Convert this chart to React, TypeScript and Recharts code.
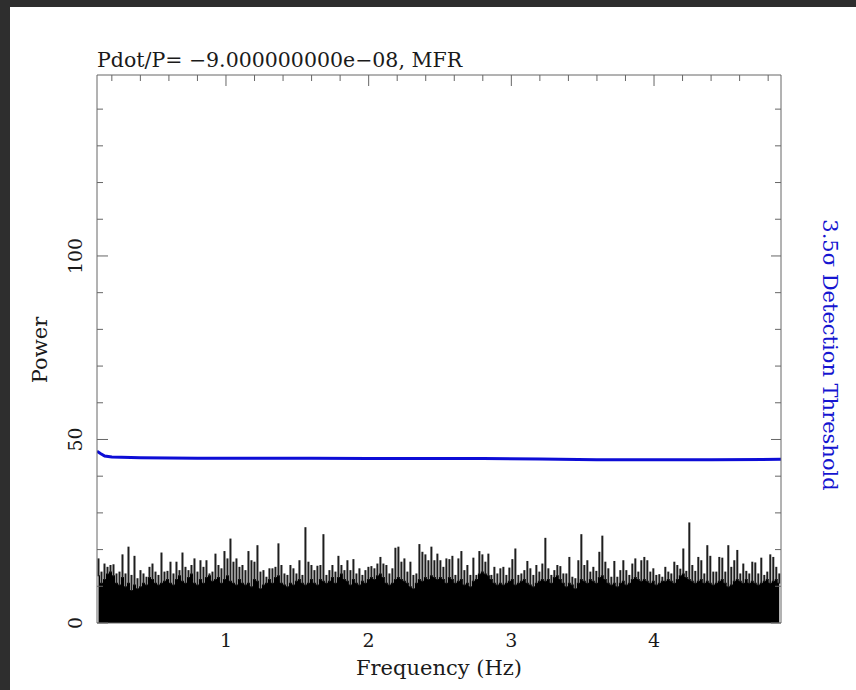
import React from 'react';
import { ComposedChart, Bar, Area, Line, XAxis, YAxis } from 'recharts';

// ---- data ----
const FREQ_START = 0.1065; // Hz, first spectrum column
const FREQ_STEP = 0.02102; // Hz between sampled columns

const PEAK_POWER = [
  17.6, 14, 16.2, 15.3, 15.8, 16, 13.5, 14, 18.7, 13.5, 20.8, 13.1, 18.3, 12.2, 14.4, 13.5, 12.6, 15.3, 16.2, 14,
  13.1, 19.2, 14, 14.2, 16.7, 13.5, 16.7, 14.4, 19.2, 15.3, 14.4, 15.8, 17.6, 14, 17.1, 15.3, 17.1, 13.5,
  14, 18.9, 15.8, 14.9, 19.6, 17.6, 23, 16.7, 17.6, 15.3, 15.8, 14.4, 19.6, 17.1, 16.7, 21.2, 14, 14.4, 12.6, 14.9,
  14.9, 15.3, 21.7, 15.8, 13.5, 13.1, 15.8, 14.9, 13.5, 17.1, 13.1, 26.1, 16.7, 15.8, 14.4, 15.6, 15.8, 24.2,
  13.1, 14.4, 15.8, 14, 18.3, 15.8, 14.4, 17.1, 14.4, 17.4, 13.5, 14.9, 13.1, 14.4, 15.3, 15.5, 14.9, 16.2, 18, 16.2,
  15.8, 13.5, 14.9, 20.5, 20.8, 16.7, 17.6, 14, 16.7, 13.1, 13.5, 21.5, 19.4, 18.7, 17.1, 20.8, 17.1, 18.9,
  17.1, 15.3, 17.6, 17.4, 18.3, 13.1, 17.6, 19.6, 14.4, 15.8, 13.1, 17.8, 13.1, 19.6, 18.7, 16.7, 18.9, 13.1, 15.3, 13.5,
  14.9, 15.3, 13.1, 15.1, 17.4, 20.3, 13.1, 13.5, 14.4, 16.9, 14.9, 13.1, 15.8, 14, 16.2, 23.2, 14.9, 13.1,
  14.4, 15.8, 15.5, 13.5, 13.5, 18, 12.6, 12.2, 17.1, 24.2, 15.8, 17.1, 14, 15.3, 14.2, 19.4, 23.8, 16.7, 14.9, 12.6,
  16.9, 12.6, 14.4, 17.1, 14.4, 13.1, 16.2, 17.6, 14, 17.1, 18, 17.1, 14, 14.9, 13.1, 13.3, 12.6, 15.3,
  14, 13.5, 16.7, 15.8, 14.8, 20.3, 14.2, 27.4, 15.8, 14.2, 18, 17.1, 13.5, 21.2, 18.3, 14, 14, 18, 17.8, 14,
  21.2, 15.3, 17.1, 19.9, 13.5, 16.2, 14.2, 13.5, 16.7, 16.5, 13.5, 17.8, 13.1, 14, 18.7, 18, 15.3, 13.5,
];

const FLOOR_POWER = [
  13, 11, 12, 13.5, 14, 13, 11, 10.5, 12.5, 10, 11, 9, 10.5, 9.5, 10, 11, 10.5, 12.5, 12, 11,
  10.5, 11, 11.5, 12, 11, 10.5, 12, 13, 11.5, 11, 12.5, 13.5, 11, 10.5, 12, 11, 12.5, 13,
  11.5, 12, 12.5, 11, 12, 13, 11.5, 11, 10.5, 12, 11, 10.5, 11, 10, 12, 11.5, 9.5, 10.5, 11, 12,
  11, 12.5, 13, 11, 10.5, 10, 11, 10.5, 11.5, 12, 11, 10.5, 11, 12, 11, 10.5, 12, 11.5,
  11, 11.5, 12.5, 11, 12.5, 13.5, 12, 11.5, 10.5, 12, 11, 10.5, 11.5, 11, 12, 12.5, 12, 13, 13.5, 12.5,
  11, 10.5, 11, 12, 12.5, 12, 11.5, 11, 10, 9.5, 11, 12, 11.5, 12.5, 12, 13, 12.5, 12,
  12.5, 12, 11, 12.5, 12, 11, 11.5, 12, 10.5, 11, 10, 11.5, 12, 13.5, 14, 13.5, 13, 12, 11, 10.5,
  11, 10.5, 11, 11.5, 12, 10.5, 11, 11.5, 12, 11, 10.5, 10, 11, 11.5, 12, 11.5, 12, 11,
  12.5, 13, 12, 11, 10, 11, 10.5, 9.5, 11, 12, 11.5, 11, 12, 11.5, 11, 12.5, 13, 12, 11, 10.5,
  11, 10, 11, 11.5, 10.5, 11, 12, 12.5, 12, 11.5, 12, 11.5, 11, 11.5, 10.5, 11, 11.5, 11.5,
  12, 11.5, 11, 12, 13, 13.5, 12.5, 12, 11.5, 11, 11.5, 12, 11, 11.5, 11, 10.5, 11, 11.5, 12, 11,
  10, 10.5, 11.5, 12, 11.5, 11, 12, 11, 11.5, 11, 10.5, 11, 11.5, 12, 11, 11.5, 12, 11,
];

const THRESHOLD_FREQ = [0.096, 0.12, 0.15, 0.2, 0.4, 0.8, 1.2, 1.6, 2.0, 2.4, 2.8, 3.2, 3.6, 4.0, 4.4, 4.89];
const THRESHOLD_POWER = [46.8, 46.2, 45.5, 45.2, 45.0, 44.9, 44.9, 44.9, 44.8, 44.8, 44.8, 44.7, 44.5, 44.5, 44.5, 44.6];

const X_DOMAIN = [0.096, 4.89];
const Y_DOMAIN = [0, 149.3];
const X_TICKS = [0.2, 0.4, 0.6, 0.8, 1, 1.2, 1.4, 1.6, 1.8, 2, 2.2, 2.4, 2.6, 2.8, 3, 3.2, 3.4, 3.6, 3.8, 4, 4.2, 4.4, 4.6, 4.8];
const X_LABELED = [1, 2, 3, 4];
const Y_TICKS = [0, 10, 20, 30, 40, 50, 60, 70, 80, 90, 100, 110, 120, 130, 140];
const Y_LABELED = [0, 50, 100];

const TITLE = 'Pdot/P= \u22129.000000000e\u221208, MFR';
const X_LABEL = 'Frequency (Hz)';
const Y_LABEL = 'Power';
const RIGHT_LABEL = '3.5\u03c3 Detection Threshold';

// ---- tables for the library ----
const spectrumRows = PEAK_POWER.map((p, i) => ({
  f: FREQ_START + i * FREQ_STEP,
  range: [FLOOR_POWER[i], p],
  floor: FLOOR_POWER[i],
}));
const thresholdRows = THRESHOLD_FREQ.map((f, i) => ({ f, thr: THRESHOLD_POWER[i] }));

const FONT = 'DejaVu Serif';
const AXIS = '#666';
const TEXT = '#1a1a1a';
const isMajor = (v: number, list: number[]) => list.some((m) => Math.abs(m - v) < 1e-6);

const LeftTick = (props: any) => {
  const { x, y, payload } = props;
  const major = isMajor(payload.value, Y_LABELED);
  const bx = x - 15;
  return (
    <g>
      <line x1={x} x2={x + (major ? 11 : 6)} y1={y} y2={y} stroke={AXIS} strokeWidth={1} />
      {major && (
        <text x={bx} y={y} transform={`rotate(-90 ${bx} ${y})`} textAnchor="middle" fontFamily={FONT} fontSize={19} fill={TEXT}>
          {payload.value}
        </text>
      )}
    </g>
  );
};

const RightTick = (props: any) => {
  const { x, y, payload } = props;
  const major = isMajor(payload.value, Y_LABELED);
  return <line x1={x} x2={x - (major ? 10 : 6)} y1={y} y2={y} stroke={AXIS} strokeWidth={1} />;
};

const TopTick = (props: any) => {
  const { x, y, payload } = props;
  const major = isMajor(payload.value, X_LABELED);
  return <line x1={x} x2={x} y1={y} y2={y + (major ? 11 : 6)} stroke={AXIS} strokeWidth={1} />;
};

const BottomTick = (props: any) => {
  const { x, y, payload } = props;
  if (!isMajor(payload.value, X_LABELED)) return <g />;
  return (
    <text x={x} y={y + 24} textAnchor="middle" fontFamily={FONT} fontSize={19} fill={TEXT}>
      {Math.round(payload.value)}
    </text>
  );
};

// thin spike drawn centred on its frequency, from the floor to the peak
const Spike = (props: any) => {
  const { x, y, width, height } = props;
  if (!Number.isFinite(x) || !Number.isFinite(y) || !Number.isFinite(height)) return <g />;
  const cx = x + (width || 0) / 2;
  const top = Math.min(y, y + height);
  const h = Math.abs(height);
  return <rect x={cx - 1} y={top} width={2} height={h + 1} fill="#1e1e1e" />;
};

export default function App() {
  return (
    <div style={{ position: 'absolute', left: 0, top: 0, width: 856, height: 690, background: '#2e2e2e' }}>
      <div style={{ position: 'absolute', left: 10, top: 7, width: 846, height: 683, background: '#ffffff' }}>
        <ComposedChart
          width={846}
          height={683}
          data={spectrumRows}
          margin={{ top: 48, right: 0, bottom: 37, left: 47 }}
        >
          <XAxis
            dataKey="f"
            type="number"
            domain={X_DOMAIN}
            allowDataOverflow
            ticks={X_TICKS}
            interval={0}
            tickSize={0}
            tickMargin={0}
            tickLine={false}
            axisLine={{ stroke: AXIS }}
            tick={(p: any) => <BottomTick {...p} />}
            height={30}
          />
          <XAxis
            xAxisId="top"
            orientation="top"
            dataKey="f"
            type="number"
            domain={X_DOMAIN}
            allowDataOverflow
            ticks={X_TICKS}
            interval={0}
            tickSize={0}
            tickMargin={0}
            tickLine={false}
            axisLine={{ stroke: AXIS }}
            tick={(p: any) => <TopTick {...p} />}
            height={20}
          />
          <YAxis
            type="number"
            domain={Y_DOMAIN}
            allowDataOverflow
            ticks={Y_TICKS}
            interval={0}
            tickSize={0}
            tickMargin={0}
            tickLine={false}
            axisLine={{ stroke: AXIS }}
            tick={(p: any) => <LeftTick {...p} />}
            width={40}
          />
          <YAxis
            yAxisId="right"
            orientation="right"
            type="number"
            domain={Y_DOMAIN}
            allowDataOverflow
            ticks={Y_TICKS}
            interval={0}
            tickSize={0}
            tickMargin={0}
            tickLine={false}
            axisLine={{ stroke: AXIS }}
            tick={(p: any) => <RightTick {...p} />}
            width={75}
          />
          <Bar dataKey="range" barSize={2} fill="#1e1e1e" shape={(p: any) => <Spike {...p} />} isAnimationActive={false} />
          <Area
            dataKey="floor"
            type="step"
            fill="#000000"
            fillOpacity={1}
            stroke="none"
            isAnimationActive={false}
          />
          <Line
            data={thresholdRows}
            dataKey="thr"
            stroke="#0d0dd6"
            strokeWidth={3}
            dot={false}
            isAnimationActive={false}
          />
          <text x={87} y={60} fontFamily={FONT} fontSize={20.5} fill={TEXT}>
            {TITLE}
          </text>
          <text x={429} y={668} textAnchor="middle" fontFamily={FONT} fontSize={21} fill={TEXT}>
            {X_LABEL}
          </text>
          <text x={37} y={343} transform="rotate(-90 37 343)" textAnchor="middle" fontFamily={FONT} fontSize={21} fill={TEXT}>
            {Y_LABEL}
          </text>
          <text x={813} y={348} transform="rotate(90 813 348)" textAnchor="middle" fontFamily={FONT} fontSize={21} fill="#1515d0">
            {RIGHT_LABEL}
          </text>
        </ComposedChart>
      </div>
    </div>
  );
}
